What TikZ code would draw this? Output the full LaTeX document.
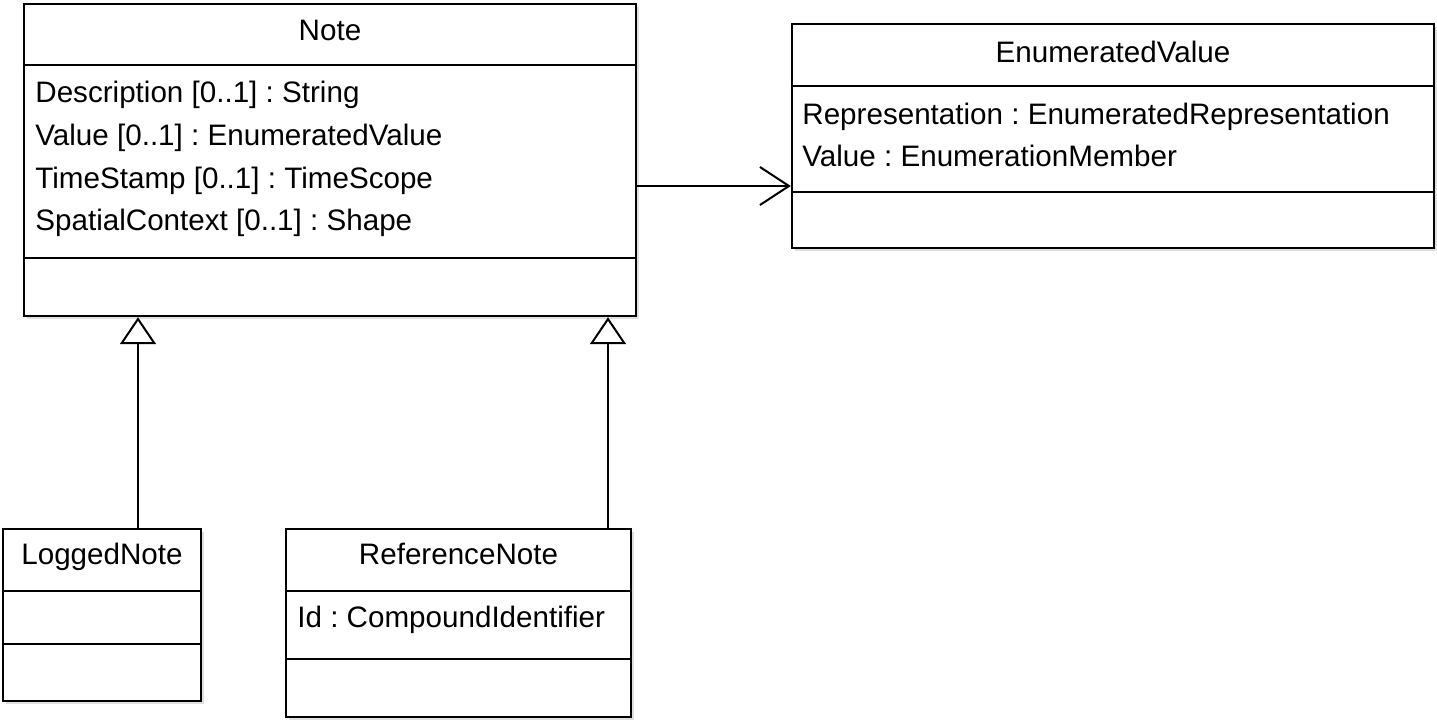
\documentclass[tikz,border=0pt]{standalone}
\usepackage{fontspec}
\setmainfont{Liberation Sans}
\usepackage{tikz}
\usetikzlibrary{arrows.meta, shadows}
\frenchspacing

\begin{document}
\begin{tikzpicture}[
    x=0.5pt, y=-0.5pt,
    font=\fontsize{14.8pt}{17pt}\selectfont,
    classbox/.style={rectangle, draw=black, line width=1.2pt, fill=white, inner sep=0pt,
        drop shadow={shadow xshift=1.5pt, shadow yshift=-1.5pt, opacity=0.25}},
    ctitle/.style={inner sep=0pt, anchor=base},
    attr/.style={inner sep=0pt, anchor=base west},
    sepline/.style={line width=1.2pt},
    gen/.style={line width=1pt, -{Triangle[open, length=13.5pt, width=18pt, line width=1pt]}},
    assoc/.style={line width=1pt, -{Straight Barb[length=14.5pt, width=19pt, line width=1pt]}},
]
\useasboundingbox (0,0) rectangle (1437,719);

% Note class
\node[classbox, minimum width=306pt, minimum height=156pt] (note) at (330,160) {};
\node[ctitle] (notetitle) at (330,40) {Note};
\draw[sepline] (note.west |- 0,65) -- (note.east |- 0,65);
\node[attr] (desc) at (35,102) {Description [0..1] : String};
\node[attr] (val) at (35,145) {Value [0..1] : EnumeratedValue};
\node[attr] (stamp) at (35,188) {TimeStamp [0..1] : TimeScope};
\node[attr] (spatial) at (35,230) {SpatialContext [0..1] : Shape};
\draw[sepline] (note.west |- 0,258) -- (note.east |- 0,258);

% EnumeratedValue class
\node[classbox, minimum width=321pt, minimum height=112pt] (ev) at (1113,136) {};
\node[ctitle] (evtitle) at (1113,62) {EnumeratedValue};
\draw[sepline] (ev.west |- 0,86) -- (ev.east |- 0,86);
\node[attr] (evrep) at (802,124) {Representation : EnumeratedRepresentation};
\node[attr] (evval) at (802,166) {Value : EnumerationMember};
\draw[sepline] (ev.west |- 0,192) -- (ev.east |- 0,192);

% LoggedNote class
\node[classbox, minimum width=99pt, minimum height=86pt] (logged) at (102,615) {};
\node[ctitle] (loggedtitle) at (102,564) {LoggedNote};
\draw[sepline] (logged.west |- 0,591) -- (logged.east |- 0,591);
\draw[sepline] (logged.west |- 0,644) -- (logged.east |- 0,644);

% ReferenceNote class
\node[classbox, minimum width=172.5pt, minimum height=94pt] (refnote) at (458.5,623) {};
\node[ctitle] (reftitle) at (458.5,564) {ReferenceNote};
\draw[sepline] (refnote.west |- 0,591) -- (refnote.east |- 0,591);
\node[attr] (refid) at (297,627) {Id : CompoundIdentifier};
\draw[sepline] (refnote.west |- 0,659) -- (refnote.east |- 0,659);

% Generalizations
\draw[gen] (logged.north -| 138,0) -- (note.south -| 138,0);
\draw[gen] (refnote.north -| 608,0) -- (note.south -| 608,0);

% Association
\draw[assoc] (note.east |- 0,186) -- (ev.west |- 0,186);

\end{tikzpicture}
\end{document}
